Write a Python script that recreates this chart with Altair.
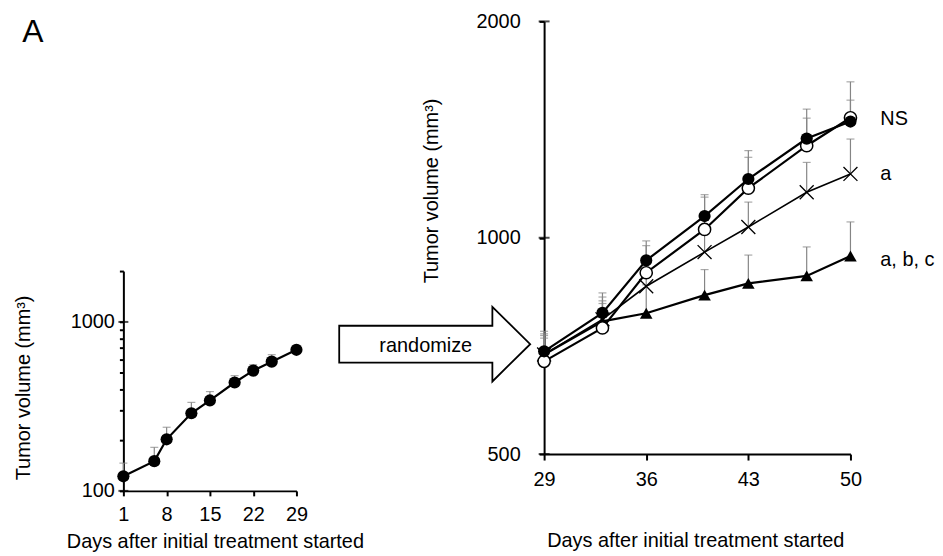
import altair as alt
import pandas as pd

FONT = "Liberation Sans"

# ---------------- data: pre-randomization (left panel) ----------------
pre_days = [1, 6, 8, 12, 15, 19, 22, 25, 29]
pre_mean = [122, 150, 202, 288, 343, 438, 515, 582, 684]
pre_upper = [146, 181, 238, 334, 387, 481, 558, 640, 725]

# ---------------- data: post-randomization (right panel) ----------------
post_days = [29, 33, 36, 40, 43, 47, 50]
filled_mean = [695, 786, 930, 1072, 1207, 1374, 1451]
filled_upper = [741, 838, 990, 1148, 1322, 1510, 1554]
open_mean = [673, 749, 894, 1027, 1172, 1343, 1469]
open_upper = [735, 827, 975, 1139, 1294, 1467, 1648]
cross_mean = [688, 770, 856, 955, 1035, 1157, 1227]
cross_upper = [731, 817, 930, 1010, 1121, 1273, 1372]
tri_mean = [688, 765, 785, 832, 864, 885, 943]
tri_upper = [725, 810, 860, 903, 946, 971, 1052]

sig_text = ["NS", "a", "a, b, c"]
sig_y = [1463, 1228, 931]

left_x_ticks = [1, 8, 15, 22, 29]
left_y_ticks = [100, 200, 300, 400, 500, 600, 700, 800, 900, 1000, 2000]
left_major = [100, 1000]
right_x_ticks = [29, 36, 43, 50]
right_y_ticks = [500, 1000, 2000]

XTITLE = "Days after initial treatment started"
YTITLE = "Tumor volume (mm³)"
ERR = "#858585"

# ---------------- left panel ----------------
def lx(field):
    return alt.X(f"{field}:Q",
                 scale=alt.Scale(domain=[1, 29], nice=False, zero=False),
                 axis=alt.Axis(values=left_x_ticks, title=XTITLE, grid=False,
                               labelFlush=False, labelOverlap=False,
                               tickSize=5, labelPadding=9, labelBaseline="top",
                               titleX=92, titleY=51, titleBaseline="middle"))

def ly(field):
    return alt.Y(f"{field}:Q",
                 scale=alt.Scale(type="log", domain=[100, 2000], range=[472, 251], nice=False),
                 axis=alt.Axis(values=left_y_ticks, format="d", title=YTITLE, grid=False,
                               labelFlush=False, labelOverlap=False,
                               labelExpr="datum.value == 100 || datum.value == 1000 ? datum.label : ''",
                               tickSize=4, labelPadding=5,
                               titleX=-100, titleY=368, titleBaseline="middle"))

pre = pd.DataFrame({"day": pre_days, "mean": pre_mean, "upper": pre_upper})
lmaj = pd.DataFrame({"day": [1] * len(left_major), "v": left_major})

l_err = alt.Chart(pre).mark_rule(color=ERR, strokeWidth=1.2).encode(
    x=lx("day"), y=ly("mean"), y2="upper:Q")
l_cap = alt.Chart(pre).mark_tick(color=ERR, orient="horizontal", size=8, thickness=1.2).encode(
    x=lx("day"), y=ly("upper"))
l_line = alt.Chart(pre).mark_line(color="black", strokeWidth=2.2).encode(
    x=lx("day"), y=ly("mean"))
l_pts = alt.Chart(pre).mark_point(shape="circle", filled=True, color="black", size=150, opacity=1).encode(
    x=lx("day"), y=ly("mean"))
l_major = alt.Chart(lmaj).mark_tick(color="black", orient="horizontal", size=10, thickness=2).encode(
    x=lx("day"), y=ly("v"))

panel_letter = alt.Chart(pd.DataFrame({"t": ["A"]})).mark_text(
    fontSize=32, font=FONT, align="center", baseline="middle", color="black").encode(
    x=alt.value(-91), y=alt.value(11), text="t:N")

ARROW = "M -1 -0.193 L 0.604 -0.193 L 0.604 -0.391 L 1 0 L 0.604 0.391 L 0.604 0.193 L -1 0.193 Z"
arrow = alt.Chart(pd.DataFrame({"t": ["randomize"]})).mark_point(
    shape=ARROW, size=36864, filled=True, fill="white", stroke="black",
    strokeWidth=1.8, opacity=1).encode(x=alt.value(313), y=alt.value(324.5))
arrow_text = alt.Chart(pd.DataFrame({"t": ["randomize"]})).mark_text(
    fontSize=20, font=FONT, align="center", baseline="middle", color="black").encode(
    x=alt.value(304), y=alt.value(326), text="t:N")

left = alt.layer(l_err, l_cap, l_line, l_major, l_pts, arrow, arrow_text, panel_letter).properties(
    width=174, height=472)

# ---------------- right panel ----------------
def rx(field):
    return alt.X(f"{field}:Q",
                 scale=alt.Scale(domain=[29, 50], nice=False, zero=False),
                 axis=alt.Axis(values=right_x_ticks, title=XTITLE, grid=False,
                               labelFlush=False, labelOverlap=False,
                               tickSize=6, labelPadding=10, labelBaseline="top",
                               titleX=152, titleY=87, titleBaseline="middle"))

def ry(field):
    return alt.Y(f"{field}:Q",
                 scale=alt.Scale(type="log", domain=[500, 2000], nice=False),
                 axis=alt.Axis(values=right_y_ticks, format="d", title=YTITLE, grid=False,
                               labelFlush=False, labelOverlap=False,
                               tickSize=5, labelPadding=19,
                               titleX=-113, titleY=170, titleBaseline="middle"))

def series_df(mean, upper):
    return pd.DataFrame({"day": post_days, "mean": mean, "upper": upper})

d_filled = series_df(filled_mean, filled_upper)
d_open = series_df(open_mean, open_upper)
d_cross = series_df(cross_mean, cross_upper)
d_tri = series_df(tri_mean, tri_upper)

layers = []
for d in [d_tri, d_cross, d_open, d_filled]:
    layers.append(alt.Chart(d).mark_rule(color=ERR, strokeWidth=1.2).encode(
        x=rx("day"), y=ry("mean"), y2="upper:Q"))
    layers.append(alt.Chart(d).mark_tick(color=ERR, orient="horizontal", size=8, thickness=1.2).encode(
        x=rx("day"), y=ry("upper")))

layers.append(alt.Chart(d_tri).mark_line(color="black", strokeWidth=2.2).encode(x=rx("day"), y=ry("mean")))
layers.append(alt.Chart(d_cross).mark_line(color="black", strokeWidth=1.6).encode(x=rx("day"), y=ry("mean")))
layers.append(alt.Chart(d_open).mark_line(color="black", strokeWidth=2.2).encode(x=rx("day"), y=ry("mean")))
layers.append(alt.Chart(d_filled).mark_line(color="black", strokeWidth=2.2).encode(x=rx("day"), y=ry("mean")))

layers.append(alt.Chart(d_tri).mark_point(shape="triangle-up", filled=True, color="black", size=160, opacity=1).encode(
    x=rx("day"), y=ry("mean")))
layers.append(alt.Chart(d_cross).mark_point(shape="M -1 -1 L 1 1 M -1 1 L 1 -1", filled=False, color="black",
                                            strokeWidth=1.3, size=196, opacity=1).encode(
    x=rx("day"), y=ry("mean")))
layers.append(alt.Chart(d_open).mark_point(shape="circle", filled=True, fill="white", stroke="black",
                                           strokeWidth=1.5, size=150, opacity=1).encode(
    x=rx("day"), y=ry("mean")))
layers.append(alt.Chart(d_filled).mark_point(shape="circle", filled=True, color="black", size=150, opacity=1).encode(
    x=rx("day"), y=ry("mean")))

rmaj = pd.DataFrame({"day": [29] * len(right_y_ticks), "v": right_y_ticks})
layers.append(alt.Chart(rmaj).mark_tick(color="black", orient="horizontal", size=11, thickness=2).encode(
    x=rx("day"), y=ry("v")))

sig = pd.DataFrame({"day": [50] * len(sig_text), "v": sig_y, "t": sig_text})
layers.append(alt.Chart(sig).mark_text(align="left", baseline="middle", dx=30, fontSize=20, font=FONT,
                                       color="black").encode(x=rx("day"), y=ry("v"), text="t:N"))

right = alt.layer(*layers).properties(width=308, height=435)

chart = alt.hconcat(left, right, spacing=249, bounds="flush").properties(
    padding={"left": 6, "top": 2, "right": 0, "bottom": 5}
).configure(font=FONT).configure_view(stroke=None).configure_axis(
    domainColor="black", domainWidth=2, tickColor="black", tickWidth=2,
    labelFont=FONT, labelFontSize=20, labelColor="black",
    titleFont=FONT, titleFontSize=20, titleFontWeight="normal", titleColor="black"
)

chart.save("out.html", embed_options={"renderer": "svg", "actions": False})
